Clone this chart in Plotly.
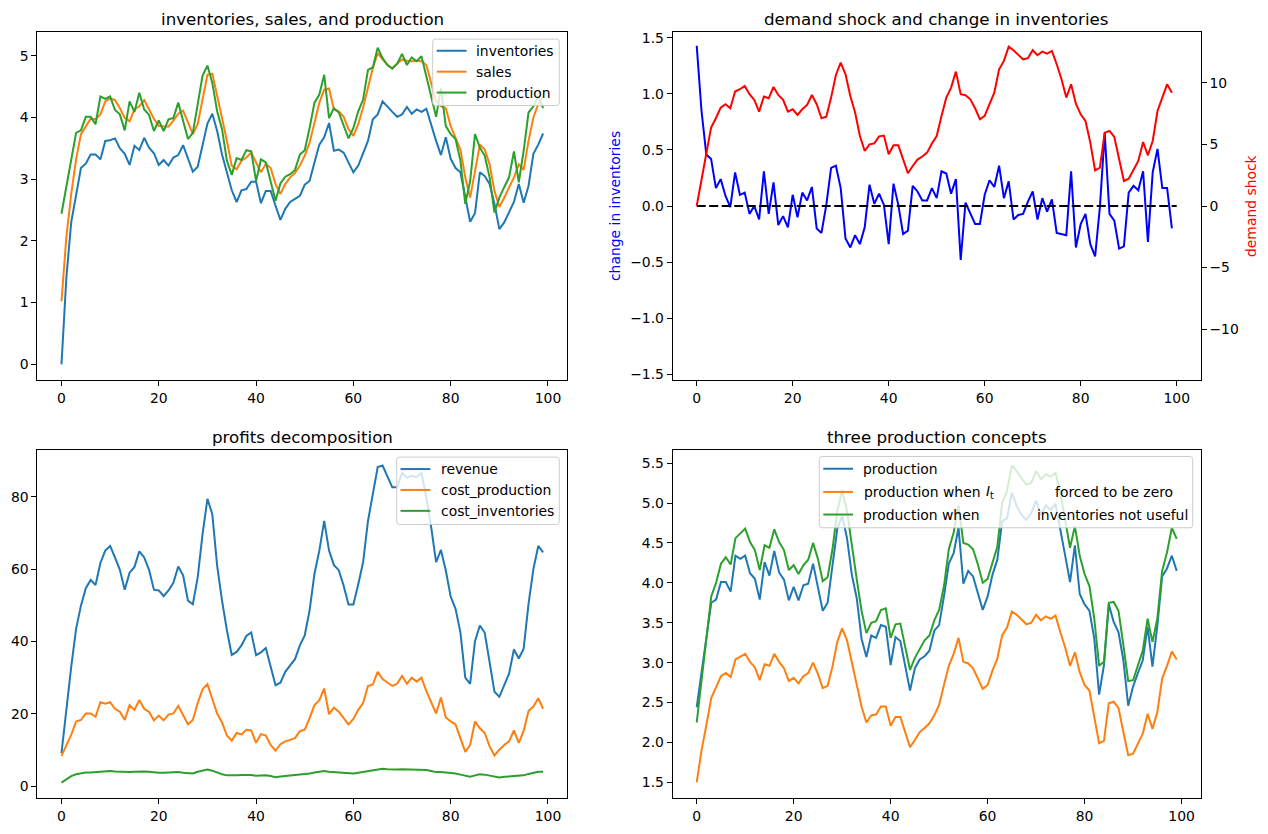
import plotly.graph_objects as go

W, H = 1268, 834
periods = list(range(100))

inventories = [
    0.00, 1.40, 2.30, 2.76, 3.18, 3.25, 3.40, 3.40, 3.32, 3.62,
    3.63, 3.66, 3.50, 3.41, 3.23, 3.54, 3.47, 3.67, 3.51, 3.42,
    3.23, 3.31, 3.22, 3.35, 3.39, 3.55, 3.35, 3.12, 3.20, 3.56,
    3.90, 4.06, 3.78, 3.40, 3.13, 2.82, 2.63, 2.82, 2.84, 2.96,
    2.96, 2.61, 2.81, 2.81, 2.57, 2.34, 2.52, 2.63, 2.68, 2.73,
    2.91, 2.97, 3.27, 3.56, 3.68, 3.91, 3.46, 3.48, 3.43, 3.27,
    3.11, 3.22, 3.43, 3.62, 3.97, 4.05, 4.26, 4.17, 4.09, 4.01,
    4.05, 4.17, 4.06, 4.13, 4.09, 4.14, 3.86, 3.62, 3.39, 3.68,
    3.33, 3.18, 3.11, 2.72, 2.31, 2.45, 3.11, 3.05, 2.92, 2.60,
    2.19, 2.30, 2.47, 2.63, 2.92, 2.62, 2.89, 3.41, 3.56, 3.74]

sales = [
    1.02, 2.06, 2.76, 3.32, 3.73, 3.86, 3.98, 3.97, 4.05, 4.26,
    4.31, 4.28, 4.15, 3.99, 3.94, 4.13, 4.18, 4.28, 4.13, 3.98,
    3.86, 3.85, 3.85, 3.95, 4.06, 4.11, 3.91, 3.73, 3.89, 4.32,
    4.69, 4.71, 4.37, 3.99, 3.62, 3.22, 3.16, 3.30, 3.35, 3.43,
    3.27, 3.11, 3.25, 3.18, 2.92, 2.76, 2.92, 3.03, 3.10, 3.22,
    3.38, 3.59, 3.91, 4.24, 4.45, 4.47, 4.13, 4.10, 4.01, 3.81,
    3.70, 3.89, 4.16, 4.48, 4.80, 5.04, 4.94, 4.85, 4.80, 4.87,
    4.94, 4.92, 4.91, 4.92, 4.91, 4.85, 4.53, 4.26, 4.18, 4.15,
    3.86, 3.68, 3.48, 3.03, 2.70, 3.13, 3.56, 3.48, 3.24, 2.81,
    2.55, 2.70, 2.87, 3.03, 3.24, 3.15, 3.62, 4.00, 4.22, 4.35]

production = [
    2.44, 2.89, 3.27, 3.75, 3.79, 4.01, 4.01, 3.89, 4.34, 4.30,
    4.34, 4.12, 4.05, 3.79, 4.26, 4.09, 4.40, 4.13, 4.04, 3.78,
    3.95, 3.78, 3.97, 3.99, 4.24, 3.94, 3.65, 3.75, 4.21, 4.68,
    4.84, 4.56, 4.10, 3.81, 3.30, 3.07, 3.34, 3.31, 3.47, 3.45,
    2.97, 3.32, 3.27, 2.95, 2.65, 2.93, 3.04, 3.08, 3.15, 3.40,
    3.47, 3.83, 4.24, 4.37, 4.69, 3.99, 4.15, 4.08, 3.86, 3.66,
    3.83, 4.10, 4.29, 4.77, 4.81, 5.13, 4.96, 4.85, 4.79, 4.87,
    5.03, 4.85, 4.97, 4.91, 4.99, 4.64, 4.34, 4.01, 4.47, 3.86,
    3.73, 3.65, 3.30, 2.60, 2.97, 3.73, 3.51, 3.38, 3.03, 2.46,
    2.70, 2.87, 3.03, 3.45, 2.95, 3.46, 4.08, 4.18, 4.34, 4.15]

change_inventories = [
    1.43, 0.85, 0.46, 0.42, 0.16, 0.24, 0.09, -0.01, 0.30, 0.10,
    0.12, -0.07, 0.00, -0.12, 0.31, -0.07, 0.21, -0.17, -0.09, -0.19,
    0.10, -0.10, 0.12, 0.05, 0.17, -0.20, -0.24, 0.01, 0.34, 0.36,
    0.16, -0.29, -0.37, -0.26, -0.34, -0.19, 0.19, 0.02, 0.11, 0.01,
    -0.34, 0.20, 0.01, -0.25, -0.22, 0.18, 0.13, 0.05, 0.05, 0.16,
    0.07, 0.31, 0.29, 0.11, 0.24, -0.48, 0.03, -0.06, -0.16, -0.16,
    0.10, 0.23, 0.17, 0.36, 0.07, 0.22, -0.12, -0.08, -0.07, 0.04,
    0.13, -0.12, 0.07, -0.05, 0.06, -0.24, -0.25, -0.26, 0.31, -0.37,
    -0.16, -0.07, -0.34, -0.45, -0.01, 0.65, -0.07, -0.13, -0.38, -0.36,
    0.12, 0.18, 0.14, 0.31, -0.32, 0.30, 0.51, 0.16, 0.16, -0.20]

demand_shock = [
    0.00, 2.17, 4.20, 6.37, 7.13, 8.00, 8.27, 7.94, 9.30, 9.49,
    9.76, 9.08, 8.62, 7.67, 8.89, 8.75, 9.67, 9.02, 8.62, 7.67,
    7.86, 7.40, 7.86, 8.21, 9.02, 8.27, 7.13, 7.26, 8.81, 10.65,
    11.65, 10.70, 8.94, 7.59, 5.69, 4.47, 5.01, 5.09, 5.66, 5.72,
    4.20, 4.93, 4.93, 3.79, 2.66, 3.25, 3.77, 4.02, 4.34, 5.08,
    5.69, 7.32, 8.81, 9.62, 10.92, 9.08, 9.00, 8.67, 7.94, 7.05,
    7.32, 8.27, 9.21, 11.11, 11.79, 12.95, 12.66, 12.28, 11.92, 12.01,
    12.66, 12.25, 12.55, 12.38, 12.60, 11.52, 10.30, 8.81, 9.89, 8.32,
    7.45, 6.91, 5.15, 2.90, 3.12, 5.96, 6.10, 5.61, 3.79, 2.03,
    2.22, 2.90, 3.66, 5.20, 4.12, 5.28, 7.72, 8.81, 9.89, 9.21]

zero_line_x = [0, 100]
zero_line_y = [0, 0]

revenue = [
    9.15, 22.0, 33.0, 43.5, 49.9, 54.7, 57.0, 55.6, 61.7, 65.1,
    66.4, 63.2, 59.8, 54.3, 59.0, 60.6, 64.9, 63.2, 59.8, 54.3,
    54.1, 52.5, 54.1, 56.2, 60.7, 58.3, 51.3, 50.3, 57.7, 69.7,
    79.4, 75.2, 60.9, 51.3, 43.1, 36.3, 37.1, 38.9, 41.5, 42.5,
    36.2, 37.0, 38.2, 33.0, 27.9, 28.6, 31.6, 33.4, 35.1, 38.9,
    41.7, 48.6, 58.7, 65.1, 73.3, 65.1, 61.1, 59.7, 55.4, 50.2,
    50.2, 55.8, 61.9, 73.3, 80.7, 88.2, 88.6, 85.5, 82.6, 82.6,
    86.6, 85.2, 85.8, 85.4, 86.6, 79.7, 71.5, 61.9, 65.3, 59.6,
    52.4, 49.0, 42.5, 30.0, 28.3, 40.1, 44.4, 42.4, 34.8, 26.1,
    24.7, 27.7, 31.1, 37.8, 35.3, 38.0, 50.4, 60.0, 66.4, 64.6]

cost_production = [
    8.4, 11.4, 14.2, 17.9, 18.3, 20.1, 20.1, 19.2, 23.2, 22.8,
    23.2, 21.4, 20.6, 18.3, 22.4, 21.1, 23.8, 21.4, 20.5, 18.2,
    19.5, 18.2, 19.8, 20.1, 22.2, 19.7, 17.1, 18.3, 23.0, 26.8,
    28.2, 24.1, 20.1, 17.6, 14.0, 12.6, 14.7, 14.3, 15.6, 15.4,
    12.0, 14.4, 14.0, 11.4, 9.8, 11.6, 12.4, 12.8, 13.3, 15.2,
    15.6, 18.8, 22.4, 23.8, 27.0, 19.9, 21.7, 20.6, 18.8, 17.1,
    18.6, 21.1, 23.0, 27.7, 28.1, 31.6, 29.6, 28.7, 27.7, 28.3,
    30.5, 28.3, 30.0, 28.9, 30.0, 26.3, 23.4, 20.1, 24.5, 19.0,
    17.9, 17.1, 13.3, 9.5, 11.4, 17.9, 16.0, 14.7, 11.0, 8.5,
    10.1, 11.4, 12.4, 15.4, 12.0, 15.3, 20.8, 22.0, 24.3, 21.4]

cost_inventories = [
    1.0, 2.0, 2.8, 3.3, 3.6, 3.8, 3.8, 3.9, 4.0, 4.2,
    4.2, 4.1, 4.0, 3.8, 3.9, 4.0, 4.1, 4.1, 4.0, 3.8,
    3.7, 3.7, 3.8, 3.9, 3.9, 3.7, 3.5, 3.5, 4.0, 4.4,
    4.6, 4.3, 3.7, 3.3, 3.0, 2.9, 3.0, 3.1, 3.2, 3.1,
    2.9, 3.0, 3.0, 2.8, 2.5, 2.7, 2.8, 2.9, 3.0, 3.1,
    3.3, 3.5, 3.8, 4.0, 4.2, 4.0, 3.9, 3.9, 3.8, 3.6,
    3.5, 3.7, 3.9, 4.2, 4.4, 4.7, 4.8, 4.7, 4.6, 4.6,
    4.7, 4.7, 4.7, 4.7, 4.7, 4.5, 4.2, 3.9, 3.9, 3.8,
    3.6, 3.5, 3.2, 2.9, 2.6, 3.0, 3.3, 3.2, 2.9, 2.5,
    2.4, 2.6, 2.7, 2.9, 2.8, 3.0, 3.4, 3.7, 4.0, 4.0]

production_zero_inv = [
    1.50, 1.90, 2.22, 2.56, 2.69, 2.83, 2.87, 2.82, 3.04, 3.08,
    3.11, 3.01, 2.94, 2.78, 2.98, 2.96, 3.11, 3.01, 2.93, 2.77,
    2.81, 2.74, 2.83, 2.87, 3.00, 2.86, 2.68, 2.71, 2.95, 3.26,
    3.43, 3.28, 3.01, 2.74, 2.45, 2.25, 2.34, 2.35, 2.45, 2.45,
    2.21, 2.32, 2.32, 2.13, 1.94, 2.03, 2.13, 2.18, 2.24, 2.34,
    2.47, 2.72, 2.96, 3.11, 3.31, 3.01, 2.99, 2.93, 2.80, 2.67,
    2.72, 2.90, 3.05, 3.34, 3.44, 3.64, 3.60, 3.54, 3.48, 3.50,
    3.60, 3.53, 3.58, 3.55, 3.59, 3.38, 3.19, 2.96, 3.13, 2.88,
    2.72, 2.65, 2.34, 1.99, 2.02, 2.49, 2.51, 2.43, 2.13, 1.84,
    1.86, 1.98, 2.11, 2.36, 2.17, 2.38, 2.80, 2.96, 3.14, 3.04]

production_no_inv = [
    2.25, 2.80, 3.34, 3.83, 4.00, 4.24, 4.32, 4.23, 4.56, 4.62,
    4.68, 4.51, 4.41, 4.16, 4.47, 4.44, 4.67, 4.51, 4.41, 4.16,
    4.22, 4.11, 4.22, 4.29, 4.50, 4.30, 4.02, 4.07, 4.42, 4.90,
    5.16, 4.90, 4.46, 4.05, 3.65, 3.37, 3.50, 3.52, 3.66, 3.68,
    3.31, 3.48, 3.49, 3.18, 2.91, 3.06, 3.18, 3.28, 3.34, 3.53,
    3.66, 3.96, 4.42, 4.63, 4.97, 4.50, 4.48, 4.42, 4.23, 4.00,
    4.05, 4.25, 4.45, 5.00, 5.15, 5.47, 5.40, 5.31, 5.23, 5.25,
    5.40, 5.30, 5.36, 5.33, 5.38, 5.13, 4.81, 4.44, 4.71, 4.34,
    4.11, 3.96, 3.55, 2.96, 3.01, 3.75, 3.76, 3.65, 3.22, 2.77,
    2.78, 2.96, 3.15, 3.55, 3.26, 3.55, 4.15, 4.38, 4.69, 4.55]

titles = ["inventories, sales, and production", "demand shock and change in inventories",
          "profits decomposition", "three production concepts"]

C_BLUE, C_ORANGE, C_GREEN = "#1f77b4", "#ff7f0e", "#2ca02c"
FONT = "DejaVu Sans"
FS = 13.9      # 10pt at 100 dpi
FS_TITLE = 16.7  # 12pt at 100 dpi
LW = 2

def px(x):
    return x / W

def py(y):
    return 1 - y / H

# axes boxes in pixels: (left, right, top, bottom)
boxes = {
    1: (37.4, 567.2, 30, 380),
    2: (672.7, 1200.7, 30, 380),
    3: (37.4, 567.2, 450, 800),
    4: (672.7, 1200.7, 450, 800),
}

fig = go.Figure()

def line(x, y, color, xa, ya, dash=None):
    fig.add_trace(go.Scatter(x=x, y=y, mode="lines", xaxis=xa, yaxis=ya, showlegend=False,
                             line=dict(color=color, width=LW, dash=dash), hoverinfo="skip"))

line(periods, inventories, C_BLUE, "x", "y")
line(periods, sales, C_ORANGE, "x", "y")
line(periods, production, C_GREEN, "x", "y")

line(periods, change_inventories, "#0000ff", "x2", "y2")
line(zero_line_x, zero_line_y, "#000000", "x2", "y2", dash="9px,3.5px")
line(periods, demand_shock, "#ff0000", "x2", "y5")

line(periods, revenue, C_BLUE, "x3", "y3")
line(periods, cost_production, C_ORANGE, "x3", "y3")
line(periods, cost_inventories, C_GREEN, "x3", "y3")

line(periods, production, C_BLUE, "x4", "y4")
line(periods, production_zero_inv, C_ORANGE, "x4", "y4")
line(periods, production_no_inv, C_GREEN, "x4", "y4")

tickfont = dict(family=FONT, size=FS, color="black")
common = dict(showgrid=False, zeroline=False, showline=True, linecolor="black", linewidth=1,
              ticks="outside", ticklen=5, tickwidth=1, tickcolor="black", tickfont=tickfont)

layout = dict(width=W, height=H, autosize=False, margin=dict(l=0, r=0, t=0, b=0),
              paper_bgcolor="white", plot_bgcolor="white", showlegend=False,
              font=dict(family=FONT, size=FS, color="black"))

xranges = {1: [-4.95, 103.95], 2: [-5, 105], 3: [-4.95, 103.95], 4: [-4.95, 103.95]}
for i in range(1, 5):
    l, r, t, b = boxes[i]
    xn = "xaxis" if i == 1 else f"xaxis{i}"
    yn = "yaxis" if i == 1 else f"yaxis{i}"
    layout[xn] = dict(common, domain=[px(l), px(r)], anchor="y" if i == 1 else f"y{i}",
                      range=xranges[i], tickvals=[0, 20, 40, 60, 80, 100], mirror=True)
    layout[yn] = dict(common, domain=[py(b), py(t)], anchor="x" if i == 1 else f"x{i}",
                      mirror=(i != 2))

layout["yaxis"].update(range=[-0.2565, 5.3865], tickvals=[0, 1, 2, 3, 4, 5])
layout["yaxis2"].update(range=[-1.554, 1.554], tickvals=[-1.5, -1.0, -0.5, 0, 0.5, 1.0, 1.5],
                        tickformat=".1f")
layout["yaxis5"] = dict(common, overlaying="y2", side="right", anchor="x2",
                        range=[-14.15, 14.15], tickvals=[-10, -5, 0, 5, 10])
layout["yaxis3"].update(range=[-3.3, 92.95], tickvals=[0, 20, 40, 60, 80])
layout["yaxis4"].update(range=[1.302, 5.666], tickvals=[1.5, 2.0, 2.5, 3.0, 3.5, 4.0, 4.5, 5.0, 5.5],
                        tickformat=".1f")

annotations = []
shapes = []

for i in range(1, 5):
    l, r, t, b = boxes[i]
    annotations.append(dict(text=titles[i - 1], x=px((l + r) / 2), y=py(t - 13), xref="paper",
                            yref="paper", xanchor="center", yanchor="middle", showarrow=False,
                            font=dict(family=FONT, size=FS_TITLE, color="black")))

annotations.append(dict(text="change in inventories", x=px(615), y=py(205), xref="paper",
                        yref="paper", textangle=-90, showarrow=False, xanchor="center",
                        yanchor="middle", font=dict(family=FONT, size=FS, color="#0000ff")))
annotations.append(dict(text="demand shock", x=px(1251), y=py(205), xref="paper",
                        yref="paper", textangle=-90, showarrow=False, xanchor="center",
                        yanchor="middle", font=dict(family=FONT, size=FS, color="#ff0000")))

def rounded_box(x0, y0, x1, y1, rad=3):
    pts = (f"M {px(x0 + rad)},{py(y0)} L {px(x1 - rad)},{py(y0)} Q {px(x1)},{py(y0)} {px(x1)},{py(y0 + rad)} "
           f"L {px(x1)},{py(y1 - rad)} Q {px(x1)},{py(y1)} {px(x1 - rad)},{py(y1)} "
           f"L {px(x0 + rad)},{py(y1)} Q {px(x0)},{py(y1)} {px(x0)},{py(y1 - rad)} "
           f"L {px(x0)},{py(y0 + rad)} Q {px(x0)},{py(y0)} {px(x0 + rad)},{py(y0)} Z")
    shapes.append(dict(type="path", path=pts, xref="paper", yref="paper", layer="above",
                       fillcolor="rgba(255,255,255,0.8)", line=dict(color="#cccccc", width=1)))

def legend_entry(x0, x1, y, color, texts):
    shapes.append(dict(type="line", xref="paper", yref="paper", layer="above",
                       x0=px(x0), x1=px(x1), y0=py(y), y1=py(y), line=dict(color=color, width=LW)))
    for tx, txt in texts:
        annotations.append(dict(text=txt, x=px(tx), y=py(y), xref="paper", yref="paper",
                                xanchor="left", yanchor="middle", showarrow=False,
                                font=dict(family=FONT, size=FS, color="black")))

# legend panel 1
rounded_box(432.7, 37.3, 559.3, 104)
legend_entry(436.7, 466.5, 49, C_BLUE, [(474, "inventories")])
legend_entry(436.7, 466.5, 70, C_ORANGE, [(474, "sales")])
legend_entry(436.7, 466.5, 91, C_GREEN, [(474, "production")])

# legend panel 3
rounded_box(396.7, 457.3, 559.3, 525)
legend_entry(400.5, 430.3, 469.3, C_BLUE, [(439, "revenue")])
legend_entry(400.5, 430.3, 490.3, C_ORANGE, [(439, "cost_production")])
legend_entry(400.5, 430.3, 511.3, C_GREEN, [(439, "cost_inventories")])

# legend panel 4
rounded_box(819.3, 456.7, 1192.7, 528.3)
legend_entry(823.3, 853, 469, C_BLUE, [(861, "production")])
legend_entry(823.3, 853, 492.3, C_ORANGE,
             [(862, "production when"), (984, "<i>I</i><sub>t</sub>"), (1053, "forced to be zero")])
legend_entry(823.3, 853, 515, C_GREEN,
             [(861, "production when"), (1034.5, "inventories not useful")])

layout["annotations"] = annotations
layout["shapes"] = shapes
fig.update_layout(**layout)

fig.write_html("out.html")
